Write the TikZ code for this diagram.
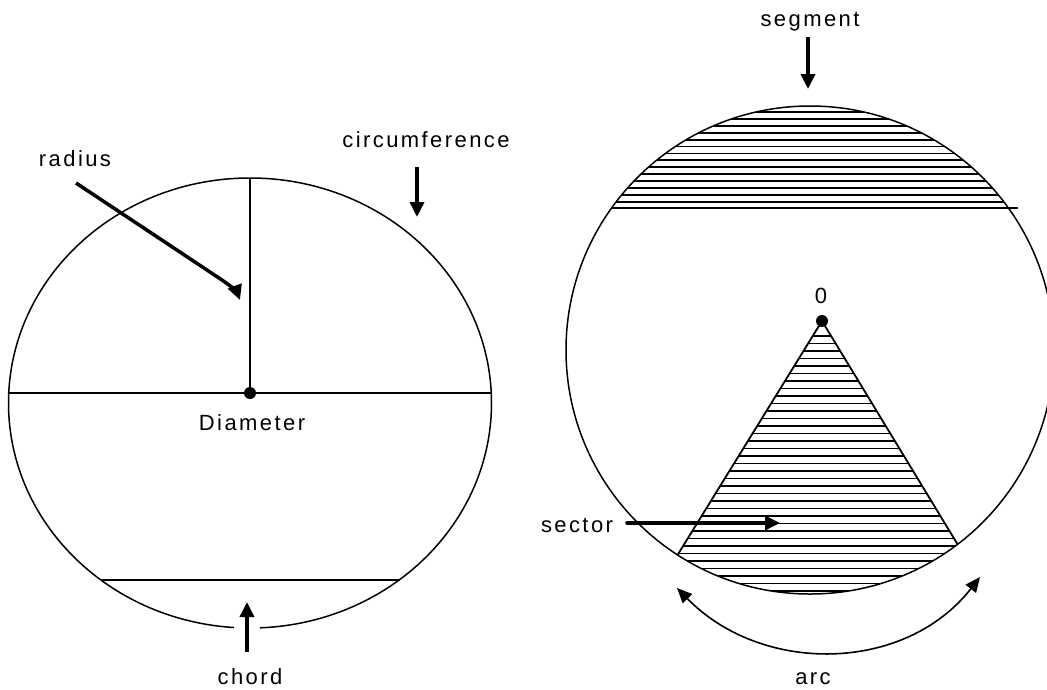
\documentclass[tikz,border=0pt]{standalone}
\usepackage{fontspec}
\setmainfont{Liberation Sans}[LetterSpace=11]
\usetikzlibrary{arrows.meta,calc}
\begin{document}
\begin{tikzpicture}[x=1pt,y=-1pt,
  lbl/.style={font=\fontsize{22}{26}\selectfont, anchor=base, inner sep=0pt},
  rim/.style={line width=1.5pt},
  hatch/.style={line width=1.8pt},
  dot/.style={circle, fill, inner sep=0pt, minimum size=12pt},
  arr/.style={line width=3.5pt, -{Triangle[length=15pt,width=14pt]}},
  arcarr/.style={line width=1.6pt, {Triangle[length=15pt,width=13pt]}-{Triangle[length=15pt,width=13pt]}}]
  \useasboundingbox (0,0) rectangle (1047,689);
  \clip (0,0) rectangle (1047,689);

  % left circle
  \draw[rim] (250,403) ellipse [x radius=241.5pt, y radius=225pt];
  \node[dot] (ctr) at (250,393) {};
  \coordinate (top) at (250,178);
  \coordinate (dl) at (8.7,393);
  \coordinate (dr) at (491.3,393);
  \coordinate (cl) at (101,580);
  \coordinate (cr) at (400,580);
  \draw[hatch] (dl) -- (dr);
  \draw[hatch] (top) -- (ctr.center);
  \draw[hatch] (cl) -- (cr);
  \fill[white] (234,621) rectangle (260,636);

  \node[lbl] (radius) at (75,166) {radius};
  \node[lbl] (circum) at (426,147) {circumference};
  \node[lbl] (diam) at (252,430) {Diameter};
  \node[lbl] (chord) at (250,684) {chord};

  \coordinate (radtail) at (76,183);
  \coordinate (radtip) at (240,300);
  \coordinate (circtail) at (417,167);
  \coordinate (circtip) at (417,217);
  \coordinate (chtail) at (247,652);
  \coordinate (chtip) at (247,602);
  \draw[arr] (radtail) -- (222,280) .. controls (232,287) and (237,292) .. (radtip);
  \draw[arr] (circtail) -- (circtip);
  \draw[arr] (chtail) -- (chtip);

  % right circle
  \draw[rim] (810,350) circle (244pt);
  \node[dot] (O) at (822,321) {};
  \coordinate (sl) at (680,551);
  \coordinate (sr) at (958,545);
  \begin{scope}
    \clip (810,350) circle (244pt);
    \foreach \y in {112,118.9,...,202}
      \draw[hatch] (560,\y) -- (1060,\y);
    \draw[hatch] ($(O.center)!1.5!(sl)$) -- (O.center) -- ($(O.center)!1.5!(sr)$);
    \clip (O.center) -- ($(O.center)!1.5!(sl)$) -- ($(O.center)!1.5!(sr)$) -- cycle;
    \foreach \y in {336,343.5,...,596}
      \draw[hatch] (560,\y) -- (1060,\y);
  \end{scope}
  \draw[hatch] (611,208) -- (1018,208);

  \node[lbl] (segment) at (810,26) {segment};
  \node[lbl] (zero) at (821,303) {0};
  \node[lbl] (sector) at (577,532) {sector};
  \node[lbl] (arc) at (813,684) {arc};

  \coordinate (segtail) at (808,37);
  \coordinate (segtip) at (808,89);
  \coordinate (sectail) at (627,523);
  \coordinate (sectip) at (780,523);
  \coordinate (arcl) at (677,588);
  \coordinate (arcr) at (980,577);
  \draw[arr] (segtail) -- (segtip);
  \draw[arr, line cap=round] (sectail) -- (sectip);
  \draw[arcarr] (arcl) .. controls (762,675) and (905,673) .. (arcr);
\end{tikzpicture}
\end{document}
